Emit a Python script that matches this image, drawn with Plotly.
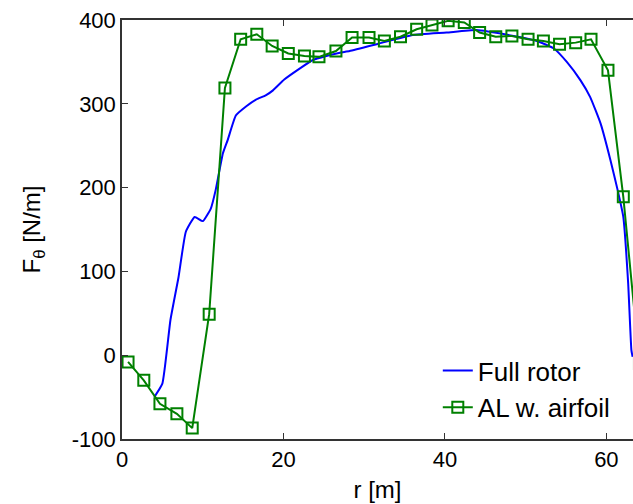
import plotly.graph_objects as go

# Full rotor (blue line)
r_full = [4.0, 5.0, 6.0, 7.0, 7.9, 9.0, 10.0, 11.0, 11.6, 12.5, 13.1, 14.1, 15.4, 16.6,
          17.8, 18.7, 20.1, 22.0, 23.6, 25.3, 27.0, 28.2, 31.9, 36.0, 40.2, 43.9, 48.5,
          51.4, 53.5, 55.1, 56.8, 58.0, 59.3, 60.5, 61.4, 62.1, 62.7, 63.1, 63.25]
f_full = [-50, -34, 42, 93, 147, 165, 160, 175, 197, 241, 257, 286, 297, 305,
          310, 316, 329, 342, 352, 357, 361, 363, 372, 382, 385, 388, 381,
          375, 366, 350, 328, 308, 276, 233, 197, 165, 86, 6, -2]

# Actuator line with airfoil data (green squares)
r_al = [0.75, 2.7, 4.7, 6.8, 8.7, 10.8, 12.75, 14.7, 16.7, 18.6, 20.6, 22.6, 24.4, 26.5,
        28.5, 30.6, 32.5, 34.5, 36.5, 38.4, 40.4, 42.4, 44.3, 46.3, 48.3, 50.3, 52.2,
        54.2, 56.2, 58.1, 60.2, 62.1, 64.1]
f_al = [-8, -30, -58, -70, -87, 49, 319, 377, 383, 369, 360, 357, 356, 363,
        379, 379, 375, 380, 389, 394, 399, 397, 385, 380, 381, 377, 375,
        371, 373, 377, 340, 189, -10]

x_ticks = [0, 20, 40, 60]
x_tick_labels = ["0", "20", "40", "60"]
y_ticks = [-100, 0, 100, 200, 300, 400]
y_tick_labels = ["-100", "0", "100", "200", "300", "400"]

fig = go.Figure()
fig.add_trace(go.Scatter(x=r_full, y=f_full, mode="lines", name="Full rotor",
                         line=dict(color="#0000ff", width=2, shape="spline", smoothing=0.4)))
fig.add_trace(go.Scatter(x=r_al, y=f_al, mode="lines+markers", name="AL w. airfoil",
                         line=dict(color="#008000", width=2),
                         marker=dict(symbol="square-open", size=11, color="#008000",
                                     line=dict(width=2, color="#008000"))))

fam = "Liberation Sans, Arial, sans-serif"
tick_font = dict(family=fam, size=22, color="black")
title_font = dict(family=fam, size=24, color="black")
legend_font = dict(family=fam, size=26, color="black")
fig.update_layout(
    width=633, height=504,
    margin=dict(l=122, r=0, t=20, b=65),
    paper_bgcolor="white", plot_bgcolor="white",
    font=tick_font,
    showlegend=True,
    legend=dict(x=0.618, y=0.019, xanchor="left", yanchor="bottom",
                bgcolor="rgba(255,255,255,0)", font=legend_font, tracegroupgap=0),
)
fig.update_xaxes(range=[0, 63.3], tickvals=x_ticks, ticktext=x_tick_labels,
                 ticks="inside", ticklen=6,
                 tickcolor="#333", showline=True, linecolor="#333", linewidth=1.5,
                 mirror="ticks", showgrid=False, zeroline=False,
                 title=dict(text="r [m]", standoff=10, font=title_font), tickfont=tick_font)
fig.update_yaxes(range=[-100, 400], tickvals=y_ticks, ticktext=y_tick_labels,
                 ticks="inside", ticklen=6,
                 tickcolor="#333", showline=True, linecolor="#333", linewidth=1.5,
                 mirror=False, showgrid=False, zeroline=False,
                 title=dict(text="F<sub>θ</sub> [N/m]", standoff=24, font=title_font),
                 tickfont=tick_font)

fig.write_html("out.html")
